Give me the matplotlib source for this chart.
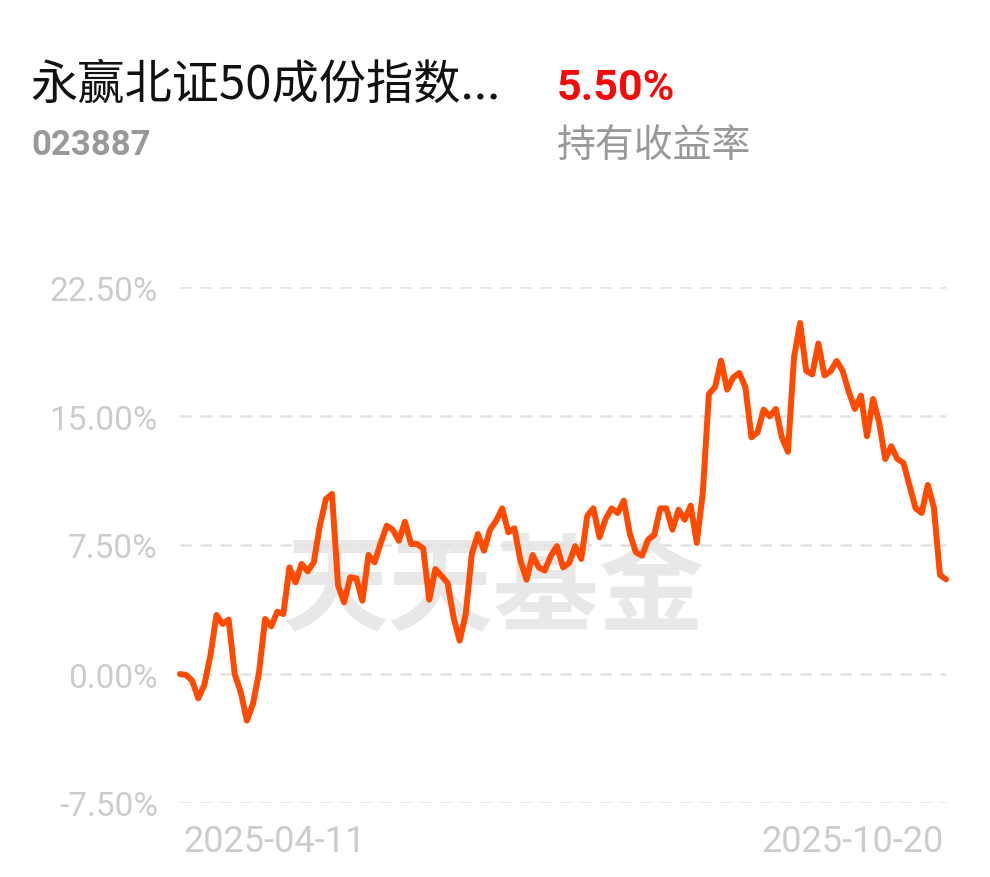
import matplotlib
matplotlib.use("Agg")
import matplotlib.pyplot as plt
from matplotlib.ticker import FixedLocator

# ---------------- data ----------------
title_text = "永赢北证50成份指数..."
fund_code = "023887"
hold_return = "5.50%"
hold_label = "持有收益率"
watermark = "天天基金"

returns = [
    0.0, -0.06, -0.39, -1.41, -0.64, 1.07, 3.43, 2.91, 3.16, 0.0,
    -1.07, -2.71, -1.74, 0.1, 3.2, 2.77, 3.62, 3.49, 6.2, 5.33,
    6.4, 5.97, 6.49, 8.62, 10.17, 10.47, 5.14, 4.17, 5.62, 5.56,
    4.26, 6.92, 6.49, 7.6, 8.62, 8.39, 7.75, 8.85, 7.56, 7.56,
    7.3, 4.32, 6.1, 5.71, 5.3,
    3.29, 1.94, 3.49, 6.98, 8.14, 7.17, 8.39, 8.91, 9.63, 8.24,
    8.47, 6.59, 5.48, 6.92, 6.2, 6.01, 6.88, 7.43, 6.2, 6.45,
    7.43, 6.69, 9.21, 9.63, 7.95, 9.01, 9.63, 9.36, 10.08, 8.14,
    7.07, 6.88, 7.81, 8.08, 9.63, 9.63, 8.39, 9.55, 8.97, 9.79,
    7.62, 10.56,
    16.28, 16.67, 18.22, 16.53, 17.25, 17.5, 16.67, 13.76, 14.05, 15.37,
    14.98, 15.41, 13.76, 12.92, 18.41, 20.41, 17.62, 17.42, 19.22, 17.36,
    17.6, 18.2, 17.62, 16.42, 15.41, 16.19, 13.82, 15.99, 14.63, 12.5,
    13.24, 12.5, 12.27, 10.95, 9.63, 9.36, 10.99, 9.69, 5.76, 5.5,
]
y_ticks = [-7.5, 0.0, 7.5, 15.0, 22.5]
y_tick_labels = ["-7.50%", "0.00%", "7.50%", "15.00%", "22.50%"]
start_date = "2025-04-11"
end_date = "2025-10-20"

# ---------------- figure ----------------
W, H = 990, 878
fig = plt.figure(figsize=(W / 100, H / 100), dpi=100)
fig.patch.set_facecolor("white")

cjk = ["Noto Sans CJK SC", "DejaVu Sans"]
num = ["Roboto", "DejaVu Sans"]

ax = fig.add_axes([180 / W, (H - 804) / H, 766 / W, 516 / H])
ax.set_facecolor("none")
n = len(returns)
x = list(range(n))
ax.set_xlim(0, n - 1)
ax.set_ylim(-7.5, 22.5)

# watermark behind everything in the axes
ax.text(0.41, 0.41, watermark, transform=ax.transAxes, ha="center", va="center",
        family=cjk, fontsize=76, fontweight="bold", color="#e8e8e8", zorder=0)

for t in y_ticks:
    ax.axhline(t, color="#e3e3e3", lw=1.8, ls=(0, (4.5, 3.5)), zorder=1)

ax.plot(x, returns, color="#ff4b00", lw=4.3, solid_joinstyle="round",
        solid_capstyle="round", zorder=3, clip_on=False)

for s in ax.spines.values():
    s.set_visible(False)
ax.yaxis.set_major_locator(FixedLocator(y_ticks))
ax.set_yticklabels(y_tick_labels, family=num, fontsize=24, color="#cccccc")
ax.tick_params(axis="y", length=0, pad=16)
ax.set_xticks([])

# x labels
fig.text(183 / W, 1 - 842 / H, start_date, ha="left", va="center",
         family=num, fontsize=26, color="#cccccc")
fig.text(944 / W, 1 - 842 / H, end_date, ha="right", va="center",
         family=num, fontsize=26, color="#cccccc")

# header
fig.text(30 / W, 1 - 86 / H, title_text, ha="left", va="center",
         family=cjk, fontsize=34, color="#111111")
fig.text(557 / W, 1 - 88 / H, hold_return, ha="left", va="center",
         family=num, fontsize=31, fontweight="bold", color="#f50a0a")
fig.text(31 / W, 1 - 146 / H, fund_code, ha="left", va="center",
         family=num, fontsize=25, fontweight="bold", color="#999999")
fig.text(557 / W, 1 - 146 / H, hold_label, ha="left", va="center",
         family=cjk, fontsize=28, color="#999999")

fig.savefig("out.png", dpi=100, facecolor="white")
